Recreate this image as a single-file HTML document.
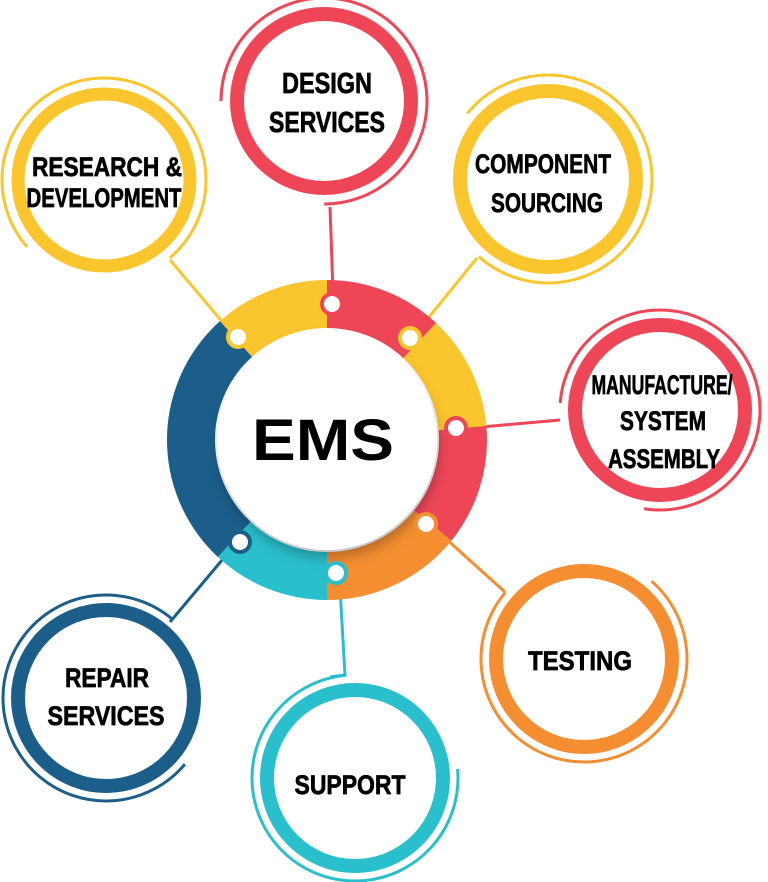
<!DOCTYPE html>
<html><head><meta charset="utf-8"><style>
html,body{margin:0;padding:0;background:#fff;}
svg{display:block;}
text{font-family:"Liberation Sans",Arial,sans-serif;font-weight:bold;fill:#000;}
.lb text{stroke:#000;stroke-width:0.7;}
</style></head><body>
<svg width="768" height="882" viewBox="0 0 768 882" xmlns="http://www.w3.org/2000/svg">
<defs>
<filter id="sh" x="-30%" y="-30%" width="160%" height="160%"><feDropShadow dx="2" dy="8" stdDeviation="6" flood-color="#000" flood-opacity="0.25"/></filter>
</defs>
<g fill="none" stroke-width="3">
<polyline points="170,260 225,325" stroke="#FBC52D"/>
<polyline points="330,207 333,292" stroke="#EE4657"/>
<polyline points="477,258 425,322" stroke="#FBC52D"/>
<polyline points="560,420 470,428" stroke="#EE4657"/>
<polyline points="445,538 505,592" stroke="#F48E31"/>
<polyline points="340,588 345,675 330,677" stroke="#29BFCD"/>
<polyline points="170,622 228,553" stroke="#1B5E8A"/>
</g>
<g fill="none" stroke-width="48" transform="translate(327,440)">
<circle r="136" stroke="#1B5E8A" stroke-dasharray="225.5 1000" transform="rotate(133)"/>
<circle r="136" stroke="#FBC52D" stroke-dasharray="99.7 1000" transform="rotate(228)"/>
<circle r="136" stroke="#EE4657" stroke-dasharray="102 1000" transform="rotate(270)"/>
<circle r="136" stroke="#FBC52D" stroke-dasharray="99.7 1000" transform="rotate(313)"/>
<circle r="136" stroke="#EE4657" stroke-dasharray="104.4 1000" transform="rotate(355)"/>
<circle r="136" stroke="#F48E31" stroke-dasharray="121 1000" transform="rotate(39)"/>
<circle r="136" stroke="#29BFCD" stroke-dasharray="102 1000" transform="rotate(90)"/>
</g>
<circle cx="327" cy="440" r="110" fill="#fff" filter="url(#sh)"/>
<g stroke-width="4" fill="#fff">
<circle cx="238" cy="337" r="10" stroke="#FBC52D"/>
<circle cx="332" cy="304" r="10" stroke="#EE4657"/>
<circle cx="410" cy="338" r="10" stroke="#FBC52D"/>
<circle cx="456" cy="428" r="10" stroke="#EE4657"/>
<circle cx="426" cy="524" r="10" stroke="#F48E31"/>
<circle cx="336" cy="573" r="10" stroke="#29BFCD"/>
<circle cx="240" cy="542" r="10" stroke="#1B5E8A"/>
</g>
<text x="323" y="460" font-size="58" textLength="142" lengthAdjust="spacingAndGlyphs" text-anchor="middle">EMS</text>

<g fill="#fff">
<circle cx="324" cy="101" r="87" stroke="#EE4657" stroke-width="14"/>
<circle cx="324" cy="101" r="103" fill="none" stroke="#EE4657" stroke-width="3" stroke-dasharray="485 1000" transform="rotate(180 324 101)"/>
<circle cx="104" cy="180" r="86" stroke="#FBC52D" stroke-width="13"/>
<circle cx="104" cy="180" r="102" fill="none" stroke="#FBC52D" stroke-width="3" stroke-dasharray="482 1000" transform="rotate(139 104 180)"/>
<circle cx="548" cy="179" r="88" stroke="#FBC52D" stroke-width="14"/>
<circle cx="548" cy="179" r="104" fill="none" stroke="#FBC52D" stroke-width="3" stroke-dasharray="495 1000" transform="rotate(219 548 179)"/>
<circle cx="660" cy="410" r="85" stroke="#EE4657" stroke-width="14"/>
<circle cx="660" cy="410" r="100" fill="none" stroke="#EE4657" stroke-width="3" stroke-dasharray="480 1000" transform="rotate(184 660 410)"/>
<circle cx="584" cy="659" r="88" stroke="#F48E31" stroke-width="14"/>
<circle cx="584" cy="659" r="103" fill="none" stroke="#F48E31" stroke-width="3" stroke-dasharray="484 1000" transform="rotate(311 584 659)"/>
<circle cx="355" cy="778" r="88" stroke="#29BFCD" stroke-width="14"/>
<circle cx="355" cy="778" r="103" fill="none" stroke="#29BFCD" stroke-width="3" stroke-dasharray="485 1000" transform="rotate(355 355 778)"/>
<circle cx="106" cy="698" r="88" stroke="#1B5E8A" stroke-width="14"/>
<circle cx="106" cy="698" r="103" fill="none" stroke="#1B5E8A" stroke-width="3" stroke-dasharray="485 1000" transform="rotate(40 106 698)"/>
</g>

<g class="lb">
<g font-size="29">
<text x="327" y="93" textLength="90" lengthAdjust="spacingAndGlyphs" text-anchor="middle">DESIGN</text>
<text x="327" y="132" textLength="116" lengthAdjust="spacingAndGlyphs" text-anchor="middle">SERVICES</text>
</g>
<g font-size="27">
<text x="107" y="176" textLength="150" lengthAdjust="spacingAndGlyphs" text-anchor="middle">RESEARCH &amp;</text>
<text x="104" y="207" textLength="155" lengthAdjust="spacingAndGlyphs" text-anchor="middle">DEVELOPMENT</text>
<text x="543" y="173" textLength="136" lengthAdjust="spacingAndGlyphs" text-anchor="middle">COMPONENT</text>
<text x="547" y="212" textLength="112" lengthAdjust="spacingAndGlyphs" text-anchor="middle">SOURCING</text>
<text x="662" y="394" textLength="141" lengthAdjust="spacingAndGlyphs" text-anchor="middle">MANUFACTURE/</text>
<text x="663" y="430" textLength="86" lengthAdjust="spacingAndGlyphs" text-anchor="middle">SYSTEM</text>
<text x="664" y="468" textLength="112" lengthAdjust="spacingAndGlyphs" text-anchor="middle">ASSEMBLY</text>
<text x="580" y="670" textLength="104" lengthAdjust="spacingAndGlyphs" text-anchor="middle">TESTING</text>
<text x="350" y="794" textLength="111" lengthAdjust="spacingAndGlyphs" text-anchor="middle">SUPPORT</text>
<text x="107" y="687" textLength="84" lengthAdjust="spacingAndGlyphs" text-anchor="middle">REPAIR</text>
<text x="106" y="725" textLength="117" lengthAdjust="spacingAndGlyphs" text-anchor="middle">SERVICES</text>
</g>
</g>
</svg>
</body></html>
